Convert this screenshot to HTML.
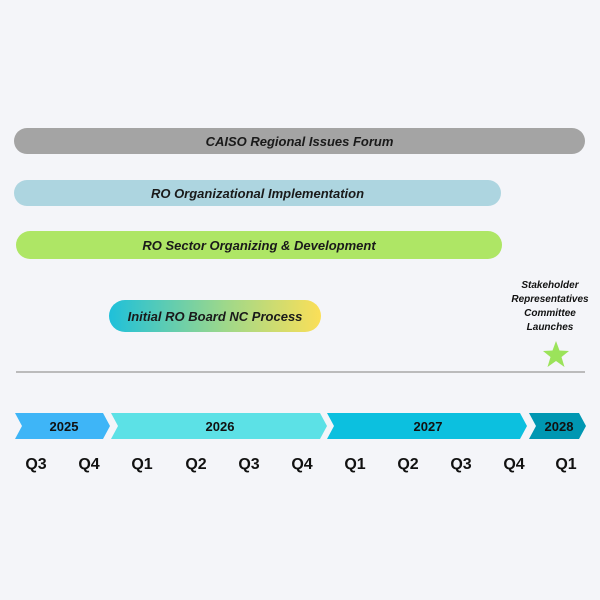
<!DOCTYPE html>
<html><head><style>
body{margin:0;background:#f4f5f9;}
.c{position:relative;width:600px;height:600px;background:#f4f5f9;font-family:"Liberation Sans",sans-serif;}
.bar{position:absolute;border-radius:14px;display:flex;align-items:center;justify-content:center;font-style:italic;font-weight:bold;font-size:13px;color:#1a1a1a;}
.q{position:absolute;top:456px;width:40px;margin-left:-20px;text-align:center;font-weight:bold;font-size:16px;color:#111;}
</style></head><body><div class="c">
<div class="bar" style="left:14px;top:128px;width:571px;height:26px;background:#a4a4a4">CAISO Regional Issues Forum</div>
<div class="bar" style="left:14px;top:180px;width:487px;height:26px;background:#add5e0">RO Organizational Implementation</div>
<div class="bar" style="left:16px;top:231px;width:486px;height:28px;background:#aee665">RO Sector Organizing &amp; Development</div>
<div class="bar" style="left:109px;top:300px;width:212px;height:32px;border-radius:16px;background:linear-gradient(90deg,#1ec0da,#9ed88a 55%,#fbdf58)">Initial RO Board NC Process</div>
<div style="position:absolute;left:505px;top:279px;width:90px;text-align:center;font-style:italic;font-weight:bold;font-size:10px;line-height:14px;color:#111">Stakeholder<br>Representatives<br>Committee<br>Launches</div>
<svg style="position:absolute;left:0;top:0" width="600" height="600">
<polygon points="556,341 559.5,350.5 569,351 561.5,357 564.5,367 556,361 547.5,367 550.5,357 543,351 552.5,350.5" fill="#9be35a"/>
<line x1="16" y1="372" x2="585" y2="372" stroke="#a8a8a8" stroke-width="1.5"/>
<polygon points="15,413 103,413 110,426 103,439 15,439 22,426" fill="#3eb5f7"/>
<polygon points="111,413 320,413 327,426 320,439 111,439 118,426" fill="#5ce1e6"/>
<polygon points="327,413 520,413 527,426 520,439 327,439 334,426" fill="#0cc0df"/>
<polygon points="529,413 579,413 586,426 579,439 529,439 536,426" fill="#0097b2"/>
<g font-family="Liberation Sans,sans-serif" font-weight="bold" font-size="13" fill="#111" text-anchor="middle">
<text x="64" y="431">2025</text><text x="220" y="431">2026</text><text x="428" y="431">2027</text><text x="559" y="431">2028</text>
</g></svg>
<div class="q" style="left:36px">Q3</div><div class="q" style="left:89px">Q4</div>
<div class="q" style="left:142px">Q1</div><div class="q" style="left:196px">Q2</div>
<div class="q" style="left:249px">Q3</div><div class="q" style="left:302px">Q4</div>
<div class="q" style="left:355px">Q1</div><div class="q" style="left:408px">Q2</div>
<div class="q" style="left:461px">Q3</div><div class="q" style="left:514px">Q4</div>
<div class="q" style="left:566px">Q1</div>
</div></body></html>
